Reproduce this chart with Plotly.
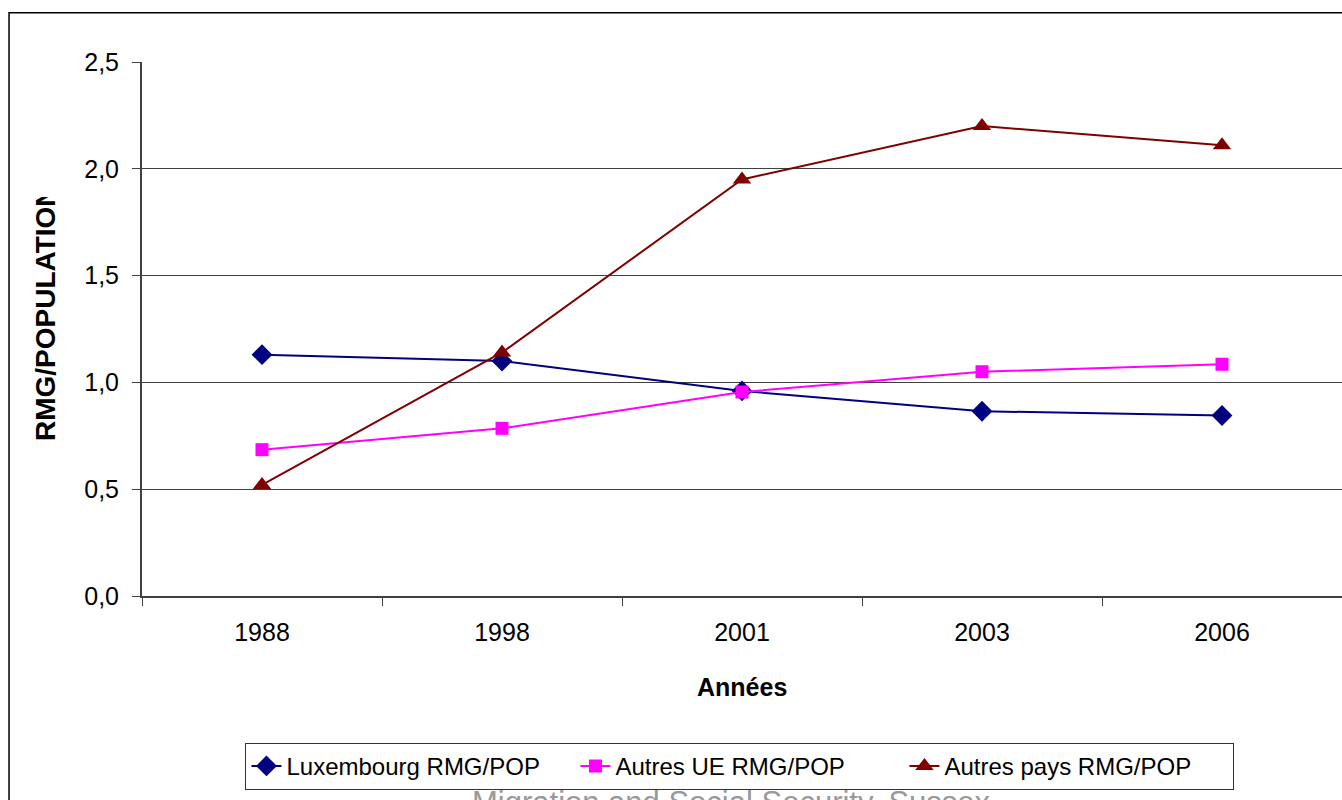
import plotly.graph_objects as go

# Years on the category axis
years = ["1988", "1998", "2001", "2003", "2006"]

# RMG recipients relative to population, by nationality group
luxembourg = [1.13, 1.10, 0.96, 0.865, 0.845]
autres_ue = [0.685, 0.785, 0.955, 1.05, 1.085]
autres_pays = [0.52, 1.14, 1.95, 2.20, 2.11]

# Y tick values and their French-formatted labels
y_ticks = [0.0, 0.5, 1.0, 1.5, 2.0, 2.5]
y_tick_labels = ["0,0", "0,5", "1,0", "1,5", "2,0", "2,5"]

FONT = "Liberation Sans, Arial, sans-serif"

fig = go.Figure()

fig.add_trace(go.Scatter(
    x=years, y=luxembourg, mode="lines+markers",
    name="Luxembourg RMG/POP",
    line=dict(color="#000080", width=2),
    marker=dict(symbol="diamond", size=16, color="#000080"),
))
fig.add_trace(go.Scatter(
    x=years, y=autres_ue, mode="lines+markers",
    name="Autres UE RMG/POP",
    line=dict(color="#FF00FF", width=2),
    marker=dict(symbol="square", size=13, color="#FF00FF"),
))
fig.add_trace(go.Scatter(
    x=years, y=autres_pays, mode="lines+markers",
    name="Autres pays RMG/POP",
    line=dict(color="#800000", width=2),
    marker=dict(symbol="triangle-up", size=16, color="#800000"),
))

fig.update_layout(
    width=1342, height=800,
    margin=dict(l=142, r=0, t=62, b=204),
    paper_bgcolor="white", plot_bgcolor="white",
    font=dict(family=FONT, size=24, color="black"),
    showlegend=True,
    legend=dict(
        orientation="h", x=0.4983, xanchor="center", y=-0.275, yanchor="top",
        bgcolor="rgba(0,0,0,0)", bordercolor="#333333", borderwidth=1,
        font=dict(family=FONT, size=24, color="black"),
        itemwidth=30, tracegroupgap=0,
        entrywidth=284, entrywidthmode="pixels",
    ),
    xaxis=dict(
        type="category", range=[-0.5, 4.5],
        showline=True, linecolor="#404040", linewidth=2,
        ticks="outside", tickson="boundaries", ticklen=8, tickcolor="#404040", tickwidth=1,
        showgrid=False, zeroline=False,
        tickfont=dict(family=FONT, size=25),
        ticklabelstandoff=13,
    ),
    yaxis=dict(
        range=[0, 2.5], tickvals=y_ticks, ticktext=y_tick_labels,
        showline=True, linecolor="#404040", linewidth=2,
        ticks="outside", ticklen=8, tickcolor="#404040", tickwidth=1,
        showgrid=True, gridcolor="#404040", gridwidth=1,
        zeroline=False,
        tickfont=dict(family=FONT, size=25),
        ticklabelstandoff=8,
    ),
)

# Outer chart frame
fig.add_shape(
    type="rect", xref="paper", yref="paper",
    x0=-0.1108, x1=1.05, y0=1.0923, y1=-0.5,
    line=dict(color="black", width=1.5), fillcolor="rgba(0,0,0,0)",
)

# Axis titles
fig.add_annotation(
    text="<b>Années</b>", xref="paper", yref="paper",
    x=0.5, y=(596 - 687) / 534, xanchor="center", yanchor="middle",
    showarrow=False, font=dict(family=FONT, size=25, color="black"),
)
fig.add_annotation(
    text="<b>RMG/POPULATION</b>", xref="paper", yref="paper",
    x=(45 - 142) / 1200, y=(596 - 314) / 534, xanchor="center", yanchor="middle",
    textangle=-90, showarrow=False, font=dict(family=FONT, size=28, color="black"),
)
# White block clipping the top end of the vertical title
fig.add_annotation(
    text="&nbsp;", xref="paper", yref="paper",
    x=(45 - 142) / 1200, y=(596 - 177) / 534, xanchor="center", yanchor="middle",
    width=46, height=40, bgcolor="white", borderpad=0, borderwidth=0,
    showarrow=False,
)

# Source caption at the bottom edge
fig.add_annotation(
    text="Migration and Social Security, Sussex", xref="paper", yref="paper",
    x=(731 - 142) / 1200, y=(596 - 783) / 534, xanchor="center", yanchor="top",
    showarrow=False, font=dict(family=FONT, size=31, color="#999999"),
)

fig.write_html("out.html")
